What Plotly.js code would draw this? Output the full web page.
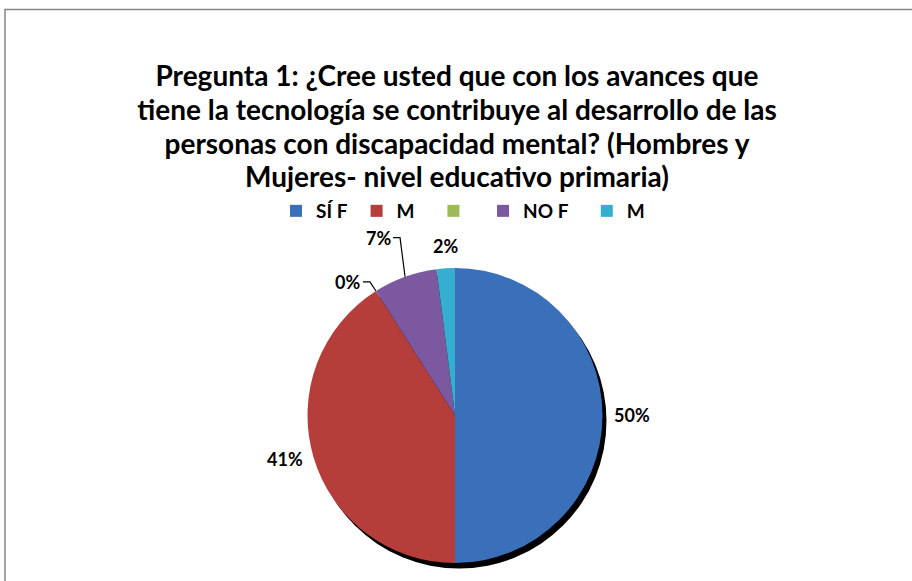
<!DOCTYPE html>
<html>
<head>
<meta charset="utf-8">
<script src="https://cdn.plot.ly/plotly-3.0.1.min.js"></script>
<style>html,body{margin:0;padding:0;background:#fff;}#chart{width:912px;height:581px;}</style>
</head>
<body>
<div id="chart"></div>
<script>
// ---- data ----
const categories = ["SÍ F", "M", "", "NO F", "M"];
const values = [50, 41, 0, 7, 2];
const valueLabels = ["50%", "41%", "0%", "7%", "2%"];
const colors = ["#3A70BA", "#B53D3A", "#9BBB59", "#7B58A0", "#36AECF"];

// ---- layout geometry (px) ----
const W = 912, H = 581;
const CX = 455, CY = 415.5, R = 147.5;
const px = x => x / W;
const py = y => 1 - y / H;
const NB = "\u00a0";
const legendPad = [1, 3, 1, 3, 0];
const displayLabels = categories.map((c, i) => c + NB.repeat(legendPad[i]));

// label leader styles (offset of text centre from slice edge point)
const leaderStyle = { 2: { dx: -28, dy: -9, halfW: 13 }, 3: { dx: -27, dy: -39, halfW: 13 } };

const total = values.reduce((a, b) => a + b, 0);
const annotations = [];
const shapes = [];

// border
shapes.push({ type: "rect", xref: "paper", yref: "paper", x0: px(5), x1: 1.05, y0: -0.05, y1: py(9.5),
  line: { color: "#868686", width: 1.5 }, fillcolor: "rgba(0,0,0,0)", layer: "below" });
// pie shadow
shapes.push({ type: "circle", xref: "paper", yref: "paper",
  x0: px(CX - R + 4), x1: px(CX + R + 4), y0: py(CY + R + 5.5), y1: py(CY - R + 5.5),
  fillcolor: "#000", line: { width: 0 }, layer: "below" });

let cum = 0;
values.forEach((v, i) => {
  const ang = 2 * Math.PI * (cum + v / 2) / total;
  cum += v;
  const s = Math.sin(ang), c = Math.cos(ang);
  const font = { family: "Lato, 'Open Sans', sans-serif", size: 18, color: "#000", weight: "bold" };
  if (leaderStyle[i]) {
    const st = leaderStyle[i];
    const ex = CX + R * s, ey = CY - R * c;
    const tx = ex + st.dx, ty = ey + st.dy;
    annotations.push({ xref: "paper", yref: "paper", x: px(tx), y: py(ty), text: valueLabels[i],
      showarrow: false, xanchor: "center", yanchor: "middle", font });
    const elbowX = tx + st.halfW + 9, endX = tx + st.halfW + 2;
    shapes.push({ type: "path", xref: "paper", yref: "paper",
      path: `M ${px(ex)} ${py(ey)} L ${px(elbowX)} ${py(ty)} L ${px(endX)} ${py(ty)}`,
      line: { color: "#000", width: 1.2 } });
  } else {
    const r = R + 9;
    const ax = CX + r * s, ay = CY - r * c;
    annotations.push({ xref: "paper", yref: "paper", x: px(ax), y: py(ay), text: valueLabels[i],
      showarrow: false,
      xanchor: s > 0.3 ? "left" : (s < -0.3 ? "right" : "center"),
      yanchor: c > 0.3 ? "bottom" : (c < -0.3 ? "top" : "middle"), font });
  }
});

const trace = {
  type: "pie",
  labels: displayLabels,
  values: values,
  sort: false,
  direction: "clockwise",
  rotation: 0,
  textinfo: "none",
  hoverinfo: "label+percent",
  marker: { colors: colors, line: { width: 0 } },
  domain: { x: [px(CX - R), px(CX + R)], y: [py(CY + R), py(CY - R)] },
  showlegend: true
};

const layout = {
  width: W, height: H,
  margin: { l: 0, r: 0, t: 0, b: 0 },
  paper_bgcolor: "#fff",
  title: {
    text: '<span style="font-size:28px">Pregunta 1: ¿Cree usted que con los avances que<br>tiene la tecnología se contribuye al desarrollo de las<br>personas con discapacidad mental? (Hombres y<br>Mujeres- nivel educativo primaria)</span>',
    font: { family: "Lato, 'Open Sans', sans-serif", size: 26, color: "#000", weight: "bold" },
    x: px(457), xanchor: "center", y: py(86), yanchor: "top"
  },
  showlegend: true,
  legend: {
    orientation: "h", x: px(463), xanchor: "center", y: py(211), yanchor: "middle",
    font: { family: "Lato, 'Open Sans', sans-serif", size: 19, color: "#000", weight: "bold" },
    bgcolor: "rgba(0,0,0,0)", itemclick: false
  },
  annotations: annotations,
  shapes: shapes
};

Plotly.newPlot("chart", [trace], layout, { displayModeBar: false, staticPlot: true });
</script>
</body>
</html>
